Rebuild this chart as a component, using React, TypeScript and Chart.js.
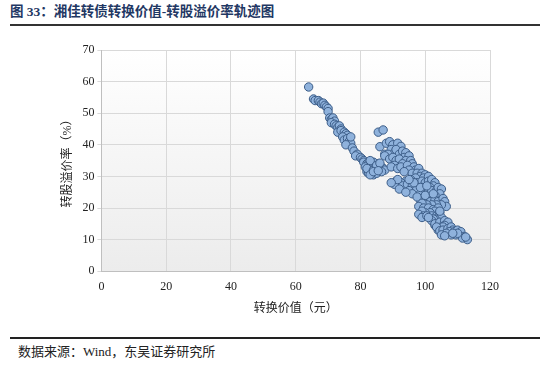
import React, { useEffect, useRef } from "react";
import { Chart, registerables } from "chart.js";

Chart.register(...registerables);

const titleText = "图 33：湘佳转债转换价值-转股溢价率轨迹图";
const sourceText = "数据来源：Wind，东吴证券研究所";
const xAxisTitle = "转换价值（元）";
const yAxisTitle = "转股溢价率（%）";

// conversion value (元)
const conversionValue: number[] = [
  64, 65.5, 66, 67, 67.5, 68, 68.5, 69, 69.5, 70, 70,
  70.5, 71, 71.5, 72, 71, 72, 72.5, 73, 73.5, 74, 73, 74, 75, 75.5, 76, 74.5, 75, 76, 76.5, 77, 77, 75.5, 77.5, 78, 79, 78.5, 80, 80.5, 81, 81, 82, 82.5, 83, 84, 84.5, 85, 83, 82, 82.5, 83.5, 84, 85, 86, 86.5, 87, 85.5, 84, 83, 81.5, 82, 84, 85, 86, 83, 84, 87.5, 86.5, 85.5,
  85.5, 87,
  86, 87.5, 88, 89, 90, 91.5, 92.5, 89.5, 90.5, 88.5, 87.5, 91, 92, 93, 94, 93.5, 95, 89, 90, 91, 92, 94, 95.5, 96, 93, 90.5, 89.5, 91.5, 92.5, 94.5, 96.5, 97, 98, 95, 93.5, 96, 97.5, 99, 98.5, 100, 99.5, 101, 97, 95.5, 94, 92.5, 91, 90.5, 93, 92, 94.5, 96, 97.5, 99, 100, 101, 102, 103, 102.5, 101.5, 100.5, 99, 98, 97, 95, 96, 94, 98.5, 100, 101, 102, 103.5, 104, 105, 104.5, 103, 102, 101, 99.5, 98.5, 97.5, 100, 101.5, 103, 104, 105.5, 106, 106.5, 105, 103.5, 102, 100.5, 99, 98, 99.5, 101, 102.5, 104, 103, 101.5, 100, 99, 98, 99.5, 99, 100.5, 102, 103.5, 104.5, 105, 103, 102.5, 102, 101, 103, 104, 103, 104.5, 106, 107, 106, 105, 104, 105.5, 103.5, 104.5, 105.5, 107, 108, 108.5, 107.5, 109, 110, 110.5, 111, 109.5, 108, 112, 113, 111.5, 106.5, 105, 106, 112.5, 110, 108.5, 100, 98.5, 96.5, 95, 91.5, 89.5, 100.5, 102.5, 104.5,
];

// conversion premium rate (%)
const premiumRate: number[] = [
  58.3, 54.5, 54, 54, 53.5, 53, 53.2, 52.5, 52, 51.5, 50.5,
  48.5, 48, 48.5, 47.5, 47, 46.5, 46, 45.5, 46, 45, 44, 44.5, 44, 43.5, 43, 42.5, 41.5, 42, 41, 40.5, 42.5, 40, 39, 38, 37, 36.5, 36, 35.5, 35, 34.5, 34, 34, 33.5, 33, 32.5, 32.5, 32, 31.5, 31, 31, 30.5, 31, 32.5, 33, 32.5, 34, 34.5, 35, 33, 32.5, 32, 33.5, 34.2, 30.5, 31.5, 32, 31.5, 31.8,
  44, 44.7,
  39.4, 37, 40.5, 41, 40, 40.5, 39.5, 38.5, 37.5, 37, 36.5, 38.5, 37, 38, 37.5, 36, 36.5, 35.5, 36, 35, 35.5, 35, 35, 34, 34, 33.5, 33, 32.5, 33, 33.5, 33, 32, 32.5, 32, 31.5, 31, 31, 31, 30, 30.5, 29.5, 30, 29.5, 29, 28.5, 28, 28.5, 27.5, 27, 26, 27.5, 27, 28, 28.5, 28, 28.5, 29, 28, 27, 26.5, 26, 26.5, 26, 25.5, 25.5, 24.5, 25, 24.5, 24, 25, 25.5, 25.5, 26.5, 26, 24.5, 24, 23.5, 23, 23, 22.5, 23.5, 22, 22, 22.5, 22, 23, 22, 20.5, 21, 21, 21, 21, 21.5, 20.5, 20, 20, 19.5, 20, 19, 18.5, 18.5, 19, 18, 17.5, 17, 17.5, 17.5, 17.5, 18.5, 17, 16.5, 16.5, 16, 17, 14.5, 15, 15, 15.5, 16, 15.5, 14.5, 14, 13, 14, 14, 12.8, 13, 13.5, 14, 13, 12.5, 12.5, 13, 12, 12.5, 11.5, 11.5, 11, 10, 10.5, 12, 11.5, 11.2, 10.8, 12, 12, 24, 26.5, 28, 29, 29, 28, 27, 24.5, 19,
];

const xTicks: number[] = [0, 20, 40, 60, 80, 100, 120];
const yTicks: number[] = [0, 10, 20, 30, 40, 50, 60, 70];

const serif = "'Liberation Serif', Tinos, 'Times New Roman', 'DejaVu Serif', 'Noto Sans CJK SC', serif";

export default function App() {
  const canvasRef = useRef<HTMLCanvasElement | null>(null);

  useEffect(() => {
    document.body.style.margin = "0";
    const canvas = canvasRef.current;
    if (!canvas) return;
    const points = conversionValue.map((x, i) => ({ x, y: premiumRate[i] }));

    const bgPlugin = {
      id: "plotBg",
      beforeDraw(chart: any) {
        const { ctx, chartArea } = chart;
        if (!chartArea) return;
        const g = ctx.createLinearGradient(0, chartArea.top, 0, chartArea.bottom);
        g.addColorStop(0, "#ffffff");
        g.addColorStop(1, "#ececec");
        ctx.save();
        ctx.fillStyle = g;
        ctx.fillRect(chartArea.left, chartArea.top, chartArea.right - chartArea.left, chartArea.bottom - chartArea.top);
        ctx.restore();
      },
    };

    const chart = new Chart(canvas, {
      type: "scatter",
      data: {
        datasets: [
          {
            data: points,
            backgroundColor: "#8FB2DC",
            borderColor: "#3C5D88",
            borderWidth: 1,
            pointRadius: 4.2,
          },
        ],
      },
      options: {
        animation: false,
        responsive: false,
        maintainAspectRatio: false,
        layout: { padding: { left: 57, right: 60, top: 18, bottom: 0 } },
        plugins: {
          legend: { display: false },
          tooltip: { enabled: false },
        },
        scales: {
          x: {
            type: "linear",
            min: 0,
            max: 120,
            afterBuildTicks: (axis: any) => {
              axis.ticks = xTicks.map((v) => ({ value: v }));
            },
            grid: { color: "#d9d9d9", drawTicks: false, lineWidth: 1 },
            border: { color: "#bfbfbf" },
            ticks: { color: "#222", font: { family: serif, size: 12 }, padding: 8 },
            title: { display: true, text: xAxisTitle, color: "#222", font: { family: serif, size: 12 }, padding: { top: 0 } },
          },
          y: {
            type: "linear",
            min: 0,
            max: 70,
            afterBuildTicks: (axis: any) => {
              axis.ticks = yTicks.map((v) => ({ value: v }));
            },
            grid: { color: "#d9d9d9", drawTicks: true, tickLength: 4, lineWidth: 1 },
            border: { color: "#bfbfbf" },
            ticks: { color: "#222", font: { family: serif, size: 12 }, padding: 3 },
            title: { display: true, text: yAxisTitle, color: "#222", font: { family: serif, size: 12 }, padding: { bottom: 4 } },
          },
        },
      },
      plugins: [bgPlugin],
    });
    return () => chart.destroy();
  }, []);

  return (
    <div style={{ position: "relative", width: 550, height: 373, background: "#fff", fontFamily: serif }}>
      <div
        style={{
          position: "absolute",
          left: 10,
          top: 4,
          fontSize: 13.5,
          fontWeight: "bold",
          color: "#1F3864",
          fontFamily: serif,
          whiteSpace: "nowrap",
          lineHeight: "16px",
        }}
      >
        {titleText}
      </div>
      <div style={{ position: "absolute", left: 10, right: 10, top: 24, height: 2, background: "#333" }} />
      <canvas ref={canvasRef} width={550} height={288} style={{ position: "absolute", left: 0, top: 32, width: 550, height: 288 }} />
      <div style={{ position: "absolute", left: 10, right: 10, top: 337, height: 2, background: "#222" }} />
      <div
        style={{
          position: "absolute",
          left: 18,
          top: 344,
          fontSize: 13,
          color: "#222",
          fontFamily: serif,
          whiteSpace: "nowrap",
          lineHeight: "16px",
        }}
      >
        {sourceText}
      </div>
    </div>
  );
}
